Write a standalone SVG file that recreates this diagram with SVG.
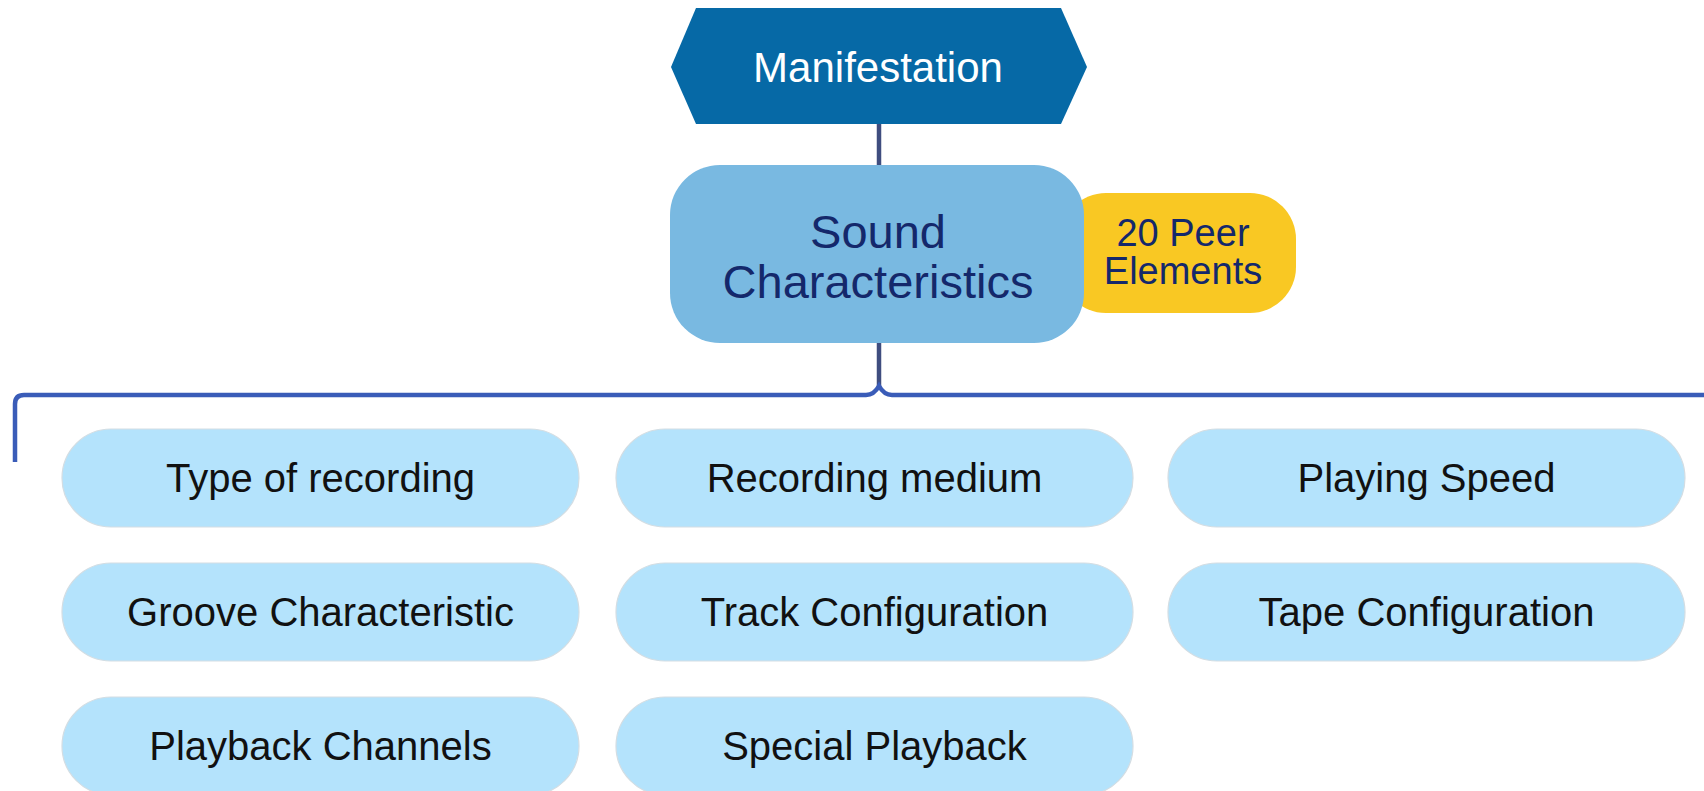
<svg xmlns="http://www.w3.org/2000/svg" width="1704" height="791" viewBox="0 0 1704 791">
<style>
.child rect{fill:#b4e3fc;stroke:#d3dde3;stroke-width:1.2}
.child text{font-family:"Liberation Sans",Arial,sans-serif;font-size:40px;fill:#111;text-anchor:middle}
.navy{font-family:"Liberation Sans",Arial,sans-serif;fill:#14286b;text-anchor:middle}
.conn{fill:none;stroke-width:4.5}
</style>
<rect width="1704" height="791" fill="#ffffff"/>
<g id="connectors">
<path class="conn" stroke="#3f4d7f" d="M879,124 L879,166"/>
<path class="conn" stroke="#3f4d7f" d="M879,342 L879,388"/>
<path class="conn" stroke="#3a5cb8" d="M15,462 L15,404 Q15,395 24,395 L866,395 Q874,395 879,386 Q884,395 892,395 L1710,395"/>
</g>
<g id="manifestation">
<polygon points="671,67 696,8 1061,8 1087,67 1061,124 696,124" fill="#0669a6"/>
<text x="878" y="82" font-family="'Liberation Sans',Arial,sans-serif" font-size="42" fill="#ffffff" text-anchor="middle">Manifestation</text>
</g>
<g id="peer-elements">
<rect x="1060" y="193" width="236" height="120" rx="46" fill="#f9c823"/>
<text class="navy" font-size="38"><tspan x="1183" y="246">20 Peer</tspan><tspan x="1183" y="284">Elements</tspan></text>
</g>
<g id="sound-characteristics">
<rect x="670" y="165" width="414" height="178" rx="50" fill="#79b9e1"/>
<text class="navy" font-size="47"><tspan x="878" y="248">Sound</tspan><tspan x="878" y="298">Characteristics</tspan></text>
</g>
<g id="type-of-recording" class="child">
<rect x="62" y="429" width="517" height="98" rx="49"/>
<text x="320.5" y="492">Type of recording</text>
</g>
<g id="recording-medium" class="child">
<rect x="616" y="429" width="517" height="98" rx="49"/>
<text x="874.5" y="492">Recording medium</text>
</g>
<g id="playing-speed" class="child">
<rect x="1168" y="429" width="517" height="98" rx="49"/>
<text x="1426.5" y="492">Playing Speed</text>
</g>
<g id="groove-characteristic" class="child">
<rect x="62" y="563" width="517" height="98" rx="49"/>
<text x="320.5" y="626">Groove Characteristic</text>
</g>
<g id="track-configuration" class="child">
<rect x="616" y="563" width="517" height="98" rx="49"/>
<text x="874.5" y="626">Track Configuration</text>
</g>
<g id="tape-configuration" class="child">
<rect x="1168" y="563" width="517" height="98" rx="49"/>
<text x="1426.5" y="626">Tape Configuration</text>
</g>
<g id="playback-channels" class="child">
<rect x="62" y="697" width="517" height="98" rx="49"/>
<text x="320.5" y="760">Playback Channels</text>
</g>
<g id="special-playback" class="child">
<rect x="616" y="697" width="517" height="98" rx="49"/>
<text x="874.5" y="760">Special Playback</text>
</g>
</svg>
